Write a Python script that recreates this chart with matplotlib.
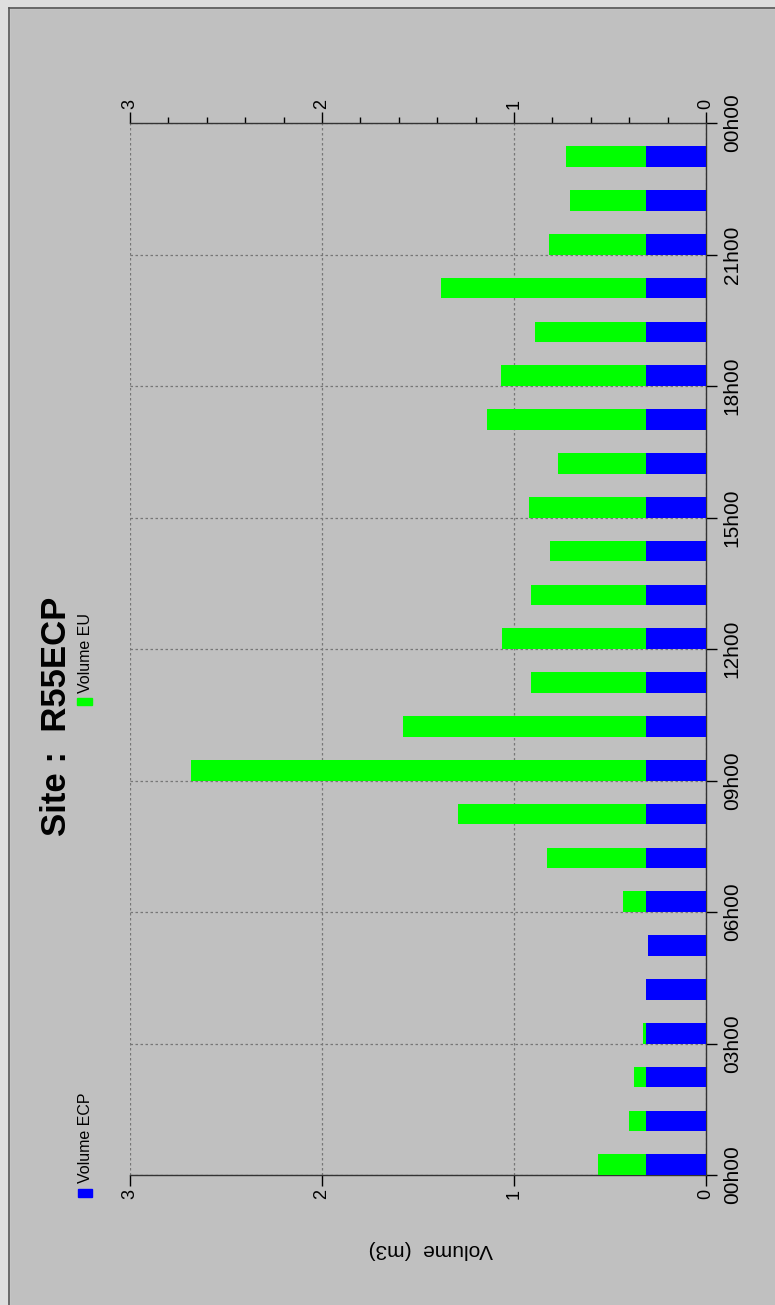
import matplotlib
matplotlib.use('Agg')
import matplotlib.pyplot as plt
import matplotlib.patches as mpatches
from matplotlib.lines import Line2D
from matplotlib.ticker import MultipleLocator

plt.rcParams['font.family'] = ['Liberation Sans', 'DejaVu Sans']

# one bar per hour
hours = list(range(24))
hour_ticks = [0, 3, 6, 9, 12, 15, 18, 21, 24]
hour_labels = ['00h00', '03h00', '06h00', '09h00', '12h00', '15h00', '18h00', '21h00', '00h00']
volume_ticks = [0, 1, 2, 3]
volume_labels = ['0', '1', '2', '3']

volume_ecp = [0.31, 0.31, 0.31, 0.31, 0.31, 0.30, 0.31, 0.31, 0.31, 0.31, 0.31, 0.31,
              0.31, 0.31, 0.31, 0.31, 0.31, 0.31, 0.31, 0.31, 0.31, 0.31, 0.31, 0.31]
volume_eu = [0.25, 0.09, 0.065, 0.02, 0.0, 0.0, 0.12, 0.52, 0.98, 2.37, 1.27, 0.60,
             0.75, 0.60, 0.50, 0.61, 0.46, 0.83, 0.76, 0.58, 1.07, 0.51, 0.40, 0.42]

W, H = 775, 1305
bg = '#c0c0c0'
blue = '#0000ff'
green = '#00ff00'

fig = plt.figure(figsize=(W / 100, H / 100), dpi=100, facecolor=bg)

# light strip + frame line at top / left
fig.add_artist(mpatches.Rectangle((0, 1 - 8 / H), 1, 8 / H, transform=fig.transFigure,
                                  color='#dedede', zorder=0))
fig.add_artist(mpatches.Rectangle((0, 0), 9 / W, 1, transform=fig.transFigure,
                                  color='#dedede', zorder=0))
fig.add_artist(Line2D([9 / W, 9 / W], [0, 1 - 8 / H], transform=fig.transFigure,
                      color='#555555', lw=1.2))
fig.add_artist(Line2D([9 / W, 1], [1 - 8 / H, 1 - 8 / H], transform=fig.transFigure,
                      color='#555555', lw=1.2))

ax = fig.add_axes([130 / W, 1 - 1175 / H, 576 / W, 1052 / H])
ax.set_facecolor(bg)

ax.barh(hours, volume_ecp, height=0.47, align='edge', color=blue, zorder=3)
ax.barh(hours, volume_eu, left=volume_ecp, height=0.47, align='edge', color=green, zorder=3)

ax.set_xlim(3, 0)
ax.set_ylim(0, 24)

ax.set_xticks(volume_ticks)
ax.set_xticklabels(volume_labels)
ax.xaxis.set_minor_locator(MultipleLocator(0.2))
ax.tick_params(axis='x', which='major', top=True, bottom=True, labeltop=True, labelbottom=True,
               labelrotation=90, direction='out', length=8, width=1, pad=2, labelsize=13)
ax.tick_params(axis='x', which='minor', top=True, bottom=False, direction='out', length=4, width=1)

ax.set_yticks(hour_ticks)
ax.set_yticklabels(hour_labels)
ax.yaxis.tick_right()
ax.tick_params(axis='y', which='major', left=False, right=True, labelleft=False, labelright=True,
               direction='out', length=8, width=1, pad=4, labelsize=15)
for t in ax.yaxis.get_major_ticks():
    t.label2.set_rotation(90)
    t.label2.set_va('center')
    t.label2.set_ha('left')

ax.grid(True, which='major', color='#777777', linestyle=(0, (2, 2)), linewidth=0.9)
ax.spines['left'].set_visible(False)
for s in ['top', 'bottom', 'right']:
    ax.spines[s].set_color('#333333')
    ax.spines[s].set_linewidth(1)

fig.text(57 / W, 1 - 716 / H, 'Site :  R55ECP', rotation=90, ha='center', va='center',
         fontsize=25, fontweight='bold')
fig.text(431 / W, 1 - 1250 / H, 'Volume  (m3)', rotation=180, ha='center', va='center', fontsize=15)

# legend entries, placed like the original
fig.add_artist(mpatches.Rectangle((78 / W, 1 - 1197 / H), 14 / W, 8 / H,
                                  transform=fig.transFigure, color=blue))
fig.text(85 / W, 1 - 1183 / H, 'Volume ECP', rotation=90, ha='center', va='bottom', fontsize=11.5)
fig.add_artist(mpatches.Rectangle((77 / W, 1 - 705 / H), 15 / W, 7 / H,
                                  transform=fig.transFigure, color=green))
fig.text(85 / W, 1 - 693 / H, 'Volume EU', rotation=90, ha='center', va='bottom', fontsize=11.5)

fig.savefig('out.png', dpi=100, facecolor=bg)
